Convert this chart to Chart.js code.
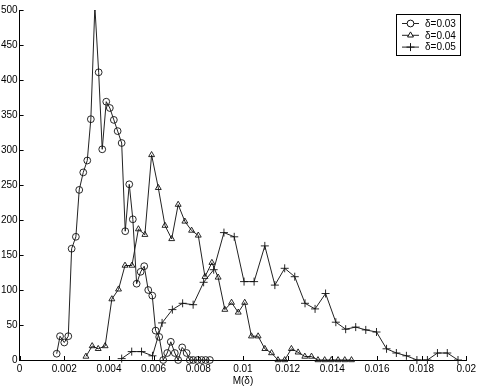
<!DOCTYPE html>
<html>
<head>
<meta charset="utf-8">
<script src="https://cdn.jsdelivr.net/npm/chart.js@4"></script>
<style>
  html, body { margin: 0; padding: 0; background: #fff; }
  #wrap { width: 479px; height: 388px; }
</style>
</head>
<body>
<div id="wrap"><canvas id="chart" width="479" height="388"></canvas></div>
<script>
// Series labels
const seriesLabels = ['δ=0.03', 'δ=0.04', 'δ=0.05'];

// δ=0.03 (circles)
const x03 = [0.00166, 0.00181, 0.002, 0.00218, 0.00233, 0.00252, 0.00267, 0.00285, 0.00303, 0.00319,
  0.00337, 0.00354, 0.0037, 0.00388, 0.00404, 0.00422, 0.00439, 0.00457, 0.00473, 0.00491,
  0.00507, 0.00524, 0.00542, 0.00558, 0.00576, 0.00594, 0.00609, 0.00625, 0.00643, 0.00661,
  0.00677, 0.00695, 0.0071, 0.00728, 0.00748, 0.00762, 0.00777, 0.00797, 0.00815, 0.00833, 0.00852];
const y03 = [9, 34, 25, 34, 159, 176, 243, 268, 285, 344,
  505, 411, 301, 369, 360, 343, 327, 310, 184, 251,
  201, 109, 126, 134, 100, 92, 42, 33, 0, 10,
  26, 10, 0, 18, 10, 0, 0, 0, 0, 0, 0];

// δ=0.04 (triangles)
const x04 = [0.00297, 0.00325, 0.00352, 0.00383, 0.00413, 0.00443, 0.00472, 0.00503, 0.00532, 0.00561,
  0.00591, 0.00621, 0.00651, 0.00681, 0.0071, 0.0074, 0.0077, 0.008, 0.0083, 0.00861,
  0.00889, 0.00919, 0.00949, 0.00979, 0.01008, 0.01038, 0.01068, 0.01098, 0.01128, 0.01157,
  0.01187, 0.01217, 0.01247, 0.01277, 0.01307, 0.01336, 0.01366, 0.01396, 0.01426, 0.01456, 0.01486];
const y04 = [5, 20, 16, 20, 87, 101, 135, 135, 187, 179,
  293, 246, 192, 173, 222, 198, 185, 178, 119, 139,
  118, 72, 82, 68, 82, 34, 34, 16, 10, 0,
  0, 16, 11, 5, 5, 0, 0, 0, 0, 0, 0];

// δ=0.05 (plus)
const x05 = [0.00457, 0.00502, 0.00546, 0.00595, 0.00638, 0.00684, 0.0073, 0.00777, 0.00824, 0.00869,
  0.00915, 0.00961, 0.01005, 0.0105, 0.01098, 0.01143, 0.01187, 0.01232, 0.01278, 0.01323,
  0.0137, 0.01416, 0.0146, 0.01505, 0.0155, 0.01598, 0.01643, 0.01687, 0.01732, 0.01779,
  0.01826, 0.01871, 0.01915, 0.01963];
const y05 = [2, 12, 12, 6, 53, 72, 81, 79, 111, 129,
  182, 176, 112, 112, 163, 107, 131, 119, 81, 73,
  95, 54, 44, 47, 43, 40, 16, 10, 6, 0,
  0, 10, 10, 0];

// Axis ranges
const xMin = 0, xMax = 0.02, xStep = 0.002;
const yMin = 0, yMax = 500, yStep = 50;
const xTitle = 'M(δ)';

const FONT = '"Liberation Sans", Arial, Helvetica, sans-serif';
const markers = ['circle', 'triangle', 'cross'];

function toPoints(xs, ys) {
  return xs.map((x, i) => ({ x: x, y: ys[i] }));
}

function makeSet(label, xs, ys, style) {
  return {
    label: label,
    data: toPoints(xs, ys),
    borderColor: '#222',
    borderWidth: 1,
    pointStyle: style,
    pointRadius: style === 'cross' ? 4 : 3.4,
    pointBorderColor: '#111',
    pointBackgroundColor: 'rgba(0,0,0,0)',
    pointBorderWidth: 0.9,
    tension: 0,
    fill: false,
    clip: { left: 10, right: 10, top: 0, bottom: 10 }
  };
}

// inward tick marks like the original plot
const inwardTicks = {
  id: 'inwardTicks',
  afterDatasetsDraw(chart) {
    const ctx = chart.ctx;
    const xs = chart.scales.x, ys = chart.scales.y;
    const len = 4;
    ctx.save();
    ctx.strokeStyle = '#000';
    ctx.lineWidth = 1;
    ctx.beginPath();
    xs.ticks.forEach(t => {
      const px = Math.round(xs.getPixelForValue(t.value)) + 0.5;
      ctx.moveTo(px, ys.bottom);
      ctx.lineTo(px, ys.bottom - len);
    });
    ys.ticks.forEach(t => {
      const py = Math.round(ys.getPixelForValue(t.value)) + 0.5;
      ctx.moveTo(xs.left, py);
      ctx.lineTo(xs.left + len, py);
    });
    ctx.stroke();
    ctx.restore();
  }
};

// boxed legend in the top right corner
const boxLegend = {
  id: 'boxLegend',
  afterDraw(chart) {
    const ctx = chart.ctx;
    const left = 396.5, top = 14.5, w = 64, h = 41;
    ctx.save();
    ctx.fillStyle = '#fff';
    ctx.fillRect(left, top, w, h);
    ctx.strokeStyle = '#000';
    ctx.lineWidth = 1;
    ctx.strokeRect(left, top, w, h);
    ctx.font = '10px ' + FONT;
    ctx.textBaseline = 'middle';
    ctx.textAlign = 'left';
    chart.data.datasets.forEach((ds, i) => {
      const cy = 23.5 + i * 11.8;
      ctx.strokeStyle = '#222';
      ctx.lineWidth = 1;
      ctx.beginPath();
      ctx.moveTo(402, cy);
      ctx.lineTo(419, cy);
      ctx.stroke();
      ctx.fillStyle = '#fff';
      ctx.strokeStyle = '#111';
      Chart.helpers.drawPoint(ctx, {
        pointStyle: ds.pointStyle,
        radius: ds.pointRadius,
        borderWidth: 0.9
      }, 410.5, cy);
      ctx.fillStyle = '#000';
      ctx.fillText(ds.label, 425, cy + 0.5);
    });
    ctx.restore();
  }
};

const chart = new Chart(document.getElementById('chart'), {
  type: 'line',
  data: {
    datasets: [
      makeSet(seriesLabels[0], x03, y03, markers[0]),
      makeSet(seriesLabels[1], x04, y04, markers[1]),
      makeSet(seriesLabels[2], x05, y05, markers[2])
    ]
  },
  options: {
    responsive: false,
    animation: false,
    layout: { padding: { left: 0, right: 12.5, top: 10, bottom: 1 } },
    plugins: {
      legend: { display: false },
      tooltip: { enabled: false }
    },
    scales: {
      x: {
        type: 'linear',
        min: xMin,
        max: xMax,
        afterFit: s => { s.height = 27; },
        grid: { display: true, drawOnChartArea: false, drawTicks: false },
        border: { display: true, color: '#000', width: 1 },
        ticks: {
          stepSize: xStep,
          padding: 3,
          color: '#000',
          font: { family: FONT, size: 10 },
          maxRotation: 0,
          autoSkip: false,
          callback: v => String(Number(v.toFixed(4)))
        },
        title: {
          display: true,
          text: xTitle,
          color: '#000',
          font: { family: FONT, size: 10 },
          padding: { top: 0, bottom: 0 }
        }
      },
      y: {
        type: 'linear',
        min: yMin,
        max: yMax,
        afterFit: s => { s.width = 19.6; },
        grid: { display: true, drawOnChartArea: false, drawTicks: false },
        border: { display: true, color: '#000', width: 1 },
        ticks: {
          stepSize: yStep,
          padding: 2,
          color: '#000',
          font: { family: FONT, size: 10 }
        }
      }
    }
  },
  plugins: [inwardTicks, boxLegend]
});
</script>
</body>
</html>
